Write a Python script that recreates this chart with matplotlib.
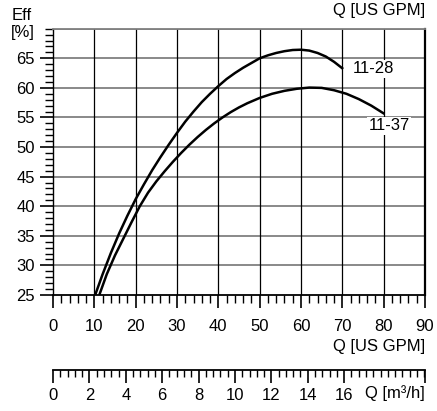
import matplotlib.pyplot as plt
from matplotlib.ticker import MultipleLocator

plt.rcParams['font.family'] = ['Liberation Sans', 'DejaVu Sans']

# efficiency curves (Q in US GPM, Eff in %)
q_1128 = [10.2, 12, 14, 16, 18, 20, 22, 24, 26, 28, 30, 32, 34, 36, 38, 40, 42,
          44, 46, 48, 50, 52, 54, 56, 58, 60, 62, 64, 66, 68, 70.2]
eff_1128 = [25.0, 28.5, 32.1, 35.4, 38.4, 41.2, 43.7, 46.1, 48.3, 50.4, 52.4,
            54.3, 56.0, 57.6, 59.0, 60.3, 61.5, 62.5, 63.4, 64.2, 65.0, 65.5,
            65.9, 66.2, 66.4, 66.45, 66.3, 65.9, 65.3, 64.4, 63.2]
q_1137 = [11.2, 13, 15, 17, 19, 21, 23, 25, 27, 29, 31, 33, 35, 37, 39, 41, 43,
          45, 47, 50, 53, 56, 59, 62, 65, 68, 71, 74, 77, 80.2]
eff_1137 = [25.0, 28.5, 31.7, 34.5, 37.3, 40.0, 42.3, 44.2, 45.9, 47.5, 49.0,
            50.4, 51.7, 52.9, 54.0, 55.0, 55.9, 56.7, 57.4, 58.3, 59.0, 59.5,
            59.85, 60.05, 60.0, 59.6, 59.0, 58.1, 57.0, 55.6]
curve_names = ["11-28", "11-37"]

gpm_per_m3h = 4.402867
gpm_ticks = list(range(0, 91, 10))
m3h_ticks = list(range(0, 17, 2))
eff_ticks = list(range(25, 66, 5))

FS = 12


def main():
    fig = plt.figure(figsize=(4.37, 4.11), dpi=100)
    ax = fig.add_axes([53 / 437, 1 - 295 / 411, 372 / 437, 266.3 / 411])

    ax.set_xlim(0, 90)
    ax.set_ylim(25, 70)

    for y in eff_ticks[1:] + [70]:
        ax.axhline(y, color="#808080", lw=1.3, zorder=1)
    for x in gpm_ticks[1:-1]:
        ax.axvline(x, color="black", lw=0.9, zorder=1)

    ax.plot(q_1128, eff_1128, color="black", lw=1.8, solid_capstyle="butt",
            solid_joinstyle="round", zorder=3)
    ax.plot(q_1137, eff_1137, color="black", lw=1.8, solid_capstyle="butt",
            solid_joinstyle="round", zorder=3)

    box = dict(facecolor="white", edgecolor="none", pad=1)
    ax.text(72.6, 63.2, curve_names[0], fontsize=FS, va="center", ha="left",
            bbox=box, zorder=4)
    ax.text(76.3, 53.6, curve_names[1], fontsize=FS, va="center", ha="left",
            bbox=box, zorder=4)

    ax.spines["top"].set_color("#808080")
    ax.spines["top"].set_linewidth(1.3)
    ax.spines["right"].set_linewidth(1.6)
    ax.spines["left"].set_linewidth(1.0)
    ax.spines["bottom"].set_linewidth(1.3)

    ax.set_xticks(gpm_ticks)
    ax.xaxis.set_minor_locator(MultipleLocator(2))
    ax.set_yticks(eff_ticks)
    ax.yaxis.set_minor_locator(MultipleLocator(1))
    ax.tick_params(axis="x", which="major", direction="out", length=9.5, width=1.2,
                   pad=8, labelsize=FS)
    ax.tick_params(axis="x", which="minor", direction="out", length=5.5, width=1.0)
    ax.tick_params(axis="y", which="major", direction="out", length=9.5, width=1.2,
                   pad=3.5, labelsize=FS)
    ax.tick_params(axis="y", which="minor", direction="out", length=5.5, width=1.0)

    fig.text(12 / 437, 1 - 15 / 411, "Eff", fontsize=FS, ha="left", va="center")
    fig.text(11 / 437, 1 - 33 / 411, "[%]", fontsize=FS, ha="left", va="center")
    fig.text(425 / 437, 1 - 10 / 411, "Q [US GPM]", fontsize=FS, ha="right", va="center")
    fig.text(425 / 437, 1 - 346 / 411, "Q [US GPM]", fontsize=FS, ha="right", va="center")

    # second flow scale in m3/h
    ax2 = fig.add_axes([53 / 437, 1 - 370 / 411, 372 / 437, 0.001])
    ax2.set_xlim(0, 90 / gpm_per_m3h)
    ax2.set_yticks([])
    for s in ["top", "left", "right"]:
        ax2.spines[s].set_visible(False)
    ax2.spines["bottom"].set_linewidth(1.3)
    ax2.patch.set_visible(False)
    ax2.set_xticks(m3h_ticks + [90 / gpm_per_m3h])
    ax2.set_xticklabels([str(t) for t in m3h_ticks] + [""])
    ax2.xaxis.set_minor_locator(MultipleLocator(0.4))
    ax2.tick_params(axis="x", which="major", direction="out", length=9.5, width=1.2,
                    pad=3.5, labelsize=FS)
    ax2.tick_params(axis="x", which="minor", direction="out", length=5.0, width=1.0)
    fig.text(425 / 437, 1 - 393 / 411, "Q [m³/h]", fontsize=FS, ha="right", va="center")

    fig.savefig("out.png", dpi=100)


if __name__ == "__main__":
    main()
